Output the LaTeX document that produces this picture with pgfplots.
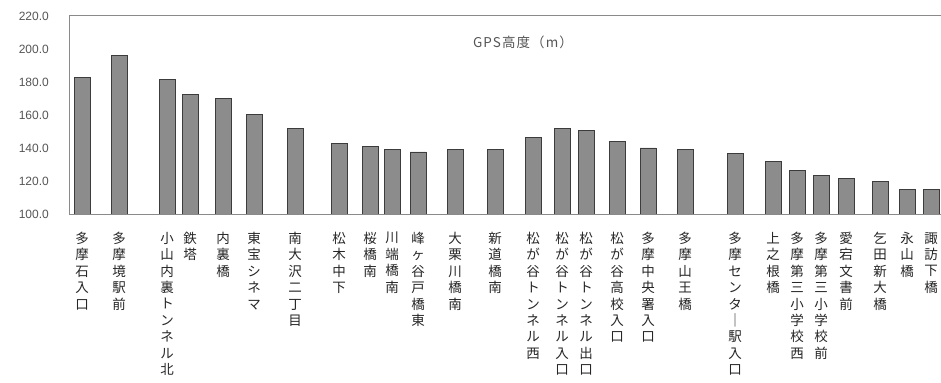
\documentclass[border=0pt]{standalone}
\usepackage{pgfplots}
\pgfplotsset{compat=1.18}
\usepackage{fontspec}
\setmainfont{Liberation Sans}
\newfontfamily\jp{Noto Sans CJK JP}
\newfontfamily\jptitle[LetterSpace=8]{Noto Sans CJK JP}

\definecolor{barfill}{HTML}{8C8C8C}
\definecolor{baredge}{HTML}{3C3C3C}
\definecolor{framegray}{HTML}{8A8A8A}
\definecolor{ticktext}{HTML}{555555}
\definecolor{labeltext}{HTML}{262626}

\begin{document}
\begin{tikzpicture}
\path[use as bounding box, clip] (0,0) rectangle (941bp,383bp);
\begin{axis}[
  at={(69bp,169bp)}, anchor=south west,
  scale only axis, width=875bp, height=198bp,
  xmin=69, xmax=944,
  ymin=100, ymax=220, ytick={100,120,...,220},
  axis x line*=box, axis y line*=left,
  axis line style={framegray, line width=1bp},
  major tick length=0pt,
  /pgf/number format/assume math mode=true,
  /pgf/number format/fixed,
  /pgf/number format/fixed zerofill,
  /pgf/number format/precision=1,
  yticklabel style={font=\fontsize{12bp}{14bp}\selectfont, text=ticktext,
    anchor=east, inner sep=0pt, xshift=-20bp},
  xtick=data,
  xticklabel style={font=\jp\fontsize{13.5bp}{16.4bp}\selectfont, text=labeltext,
    align=center, anchor=north, inner sep=0pt, yshift=-18bp},
  xticklabels={
    {多\\摩\\石\\入\\口},
    {多\\摩\\境\\駅\\前},
    {小\\山\\内\\裏\\ト\\ン\\ネ\\ル\\北},
    {鉄\\塔},
    {内\\裏\\橋},
    {東\\宝\\シ\\ネ\\マ},
    {南\\大\\沢\\二\\丁\\目},
    {松\\木\\中\\下},
    {桜\\橋\\南},
    {川\\端\\橋\\南},
    {峰\\ヶ\\谷\\戸\\橋\\東},
    {大\\栗\\川\\橋\\南},
    {新\\道\\橋\\南},
    {松\\が\\谷\\ト\\ン\\ネ\\ル\\西},
    {松\\が\\谷\\ト\\ン\\ネ\\ル\\入\\口},
    {松\\が\\谷\\ト\\ン\\ネ\\ル\\出\\口},
    {松\\が\\谷\\高\\校\\入\\口},
    {多\\摩\\中\\央\\署\\入\\口},
    {多\\摩\\山\\王\\橋},
    {多\\摩\\セ\\ン\\タ\\｜\\駅\\入\\口},
    {上\\之\\根\\橋},
    {多\\摩\\第\\三\\小\\学\\校\\西},
    {多\\摩\\第\\三\\小\\学\\校\\前},
    {愛\\宕\\文\\書\\前},
    {乞\\田\\新\\大\\橋},
    {永\\山\\橋},
    {諏\\訪\\下\\橋}},
]
\addplot[ybar, bar width=16bp, fill=barfill, draw=baredge, line width=0.9bp]
  coordinates {
    (82,182.8) (119,195.8) (167,181.6) (190,172.3) (223,169.9)
    (254,160.2) (295,152.1) (339,142.8) (370,140.8) (392,139.2)
    (418,137.6) (455,139.2) (495,139.2) (533,146.1) (562,152.1)
    (586,150.5) (617,144.1) (648,140.0) (685,139.2) (735,136.8)
    (773,131.9) (797,126.2) (821,123.5) (846,121.4) (880,119.8)
    (907,115.0) (931,115.0)
  };
\node[font=\jptitle\fontsize{13.5bp}{16bp}\selectfont, text=ticktext]
  at (axis cs:523,204) {GPS高度（m）};
\end{axis}
\end{tikzpicture}
\end{document}
